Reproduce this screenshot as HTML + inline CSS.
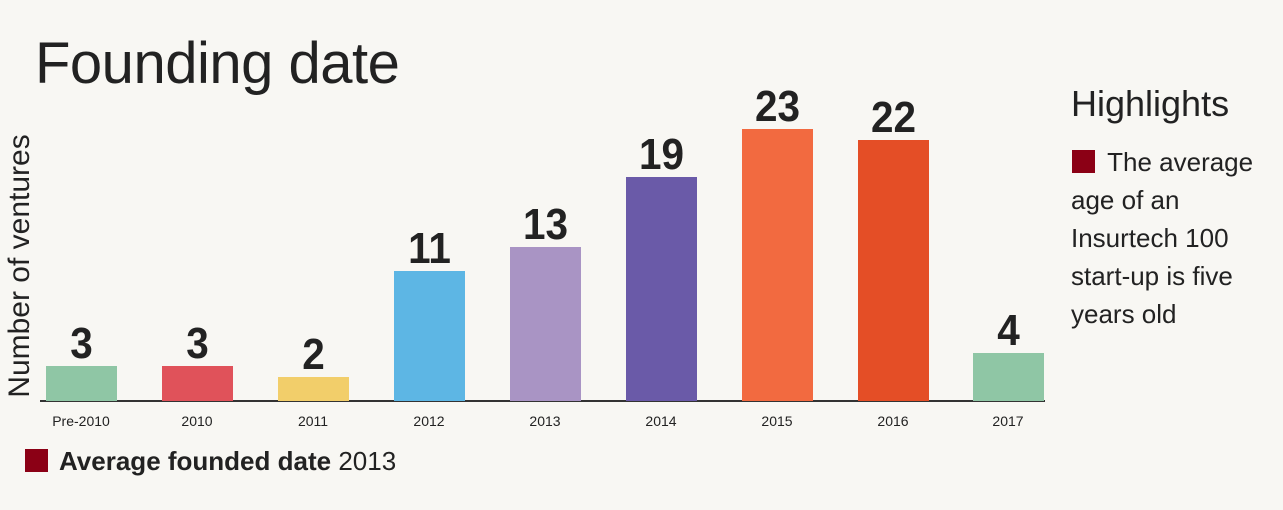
<!DOCTYPE html>
<html><head><meta charset="utf-8"><style>
body{margin:0;width:1283px;height:510px;background:#f8f7f3;font-family:"Liberation Sans",sans-serif;color:#222;position:relative;overflow:hidden}
.a{position:absolute;white-space:nowrap}
.bar{position:absolute;width:71px}
.v{position:absolute;width:71px;text-align:center;font-weight:bold;font-size:44px;line-height:44px;color:#222;transform:scaleX(0.92)}
.x{position:absolute;width:100px;text-align:center;font-size:14px;top:413px}
</style></head><body>
<div class="a" style="left:35px;top:30px;font-size:58px;font-weight:300;letter-spacing:-0.5px">Founding date</div>
<div class="a" style="left:20px;top:266px;font-size:30px;transform:translate(-50%,-50%) rotate(-90deg)">Number of ventures</div>
<div class="a" style="left:40px;top:400px;width:1005px;height:2px;background:#333"></div>

<div class="bar" style="left:46px;top:366px;height:35px;background:#8fc6a5"></div>
<div class="bar" style="left:162px;top:366px;height:35px;background:#e0525a"></div>
<div class="bar" style="left:278px;top:377px;height:24px;background:#f2ce6a"></div>
<div class="bar" style="left:394px;top:271px;height:130px;background:#5db6e4"></div>
<div class="bar" style="left:510px;top:247px;height:154px;background:#a994c4"></div>
<div class="bar" style="left:626px;top:177px;height:224px;background:#6a5aa8"></div>
<div class="bar" style="left:742px;top:129px;height:272px;background:#f26a40"></div>
<div class="bar" style="left:858px;top:140px;height:261px;background:#e44e26"></div>
<div class="bar" style="left:973px;top:353px;height:48px;background:#8fc6a5"></div>

<div class="v" style="left:46px;top:322px">3</div>
<div class="v" style="left:162px;top:322px">3</div>
<div class="v" style="left:278px;top:333px">2</div>
<div class="v" style="left:394px;top:227px">11</div>
<div class="v" style="left:510px;top:203px">13</div>
<div class="v" style="left:626px;top:133px">19</div>
<div class="v" style="left:742px;top:85px">23</div>
<div class="v" style="left:858px;top:96px">22</div>
<div class="v" style="left:973px;top:309px">4</div>

<div class="x" style="left:31px">Pre-2010</div>
<div class="x" style="left:147px">2010</div>
<div class="x" style="left:263px">2011</div>
<div class="x" style="left:379px">2012</div>
<div class="x" style="left:495px">2013</div>
<div class="x" style="left:611px">2014</div>
<div class="x" style="left:727px">2015</div>
<div class="x" style="left:843px">2016</div>
<div class="x" style="left:958px">2017</div>

<div class="a" style="left:25px;top:449px;width:23px;height:23px;background:#8b0015"></div>
<div class="a" style="left:59px;top:446px;font-size:26px"><b>Average founded date</b> 2013</div>

<div class="a" style="left:1071px;top:83px;font-size:36px;font-weight:300">Highlights</div>
<div class="a" style="left:1072px;top:150px;width:23px;height:23px;background:#8b0015"></div>
<div class="a" style="left:1071px;top:143px;font-size:26px;line-height:38px">&nbsp;&nbsp;&nbsp;&nbsp;&nbsp;The average<br>age of an<br>Insurtech 100<br>start-up is five<br>years old</div>
</body></html>
